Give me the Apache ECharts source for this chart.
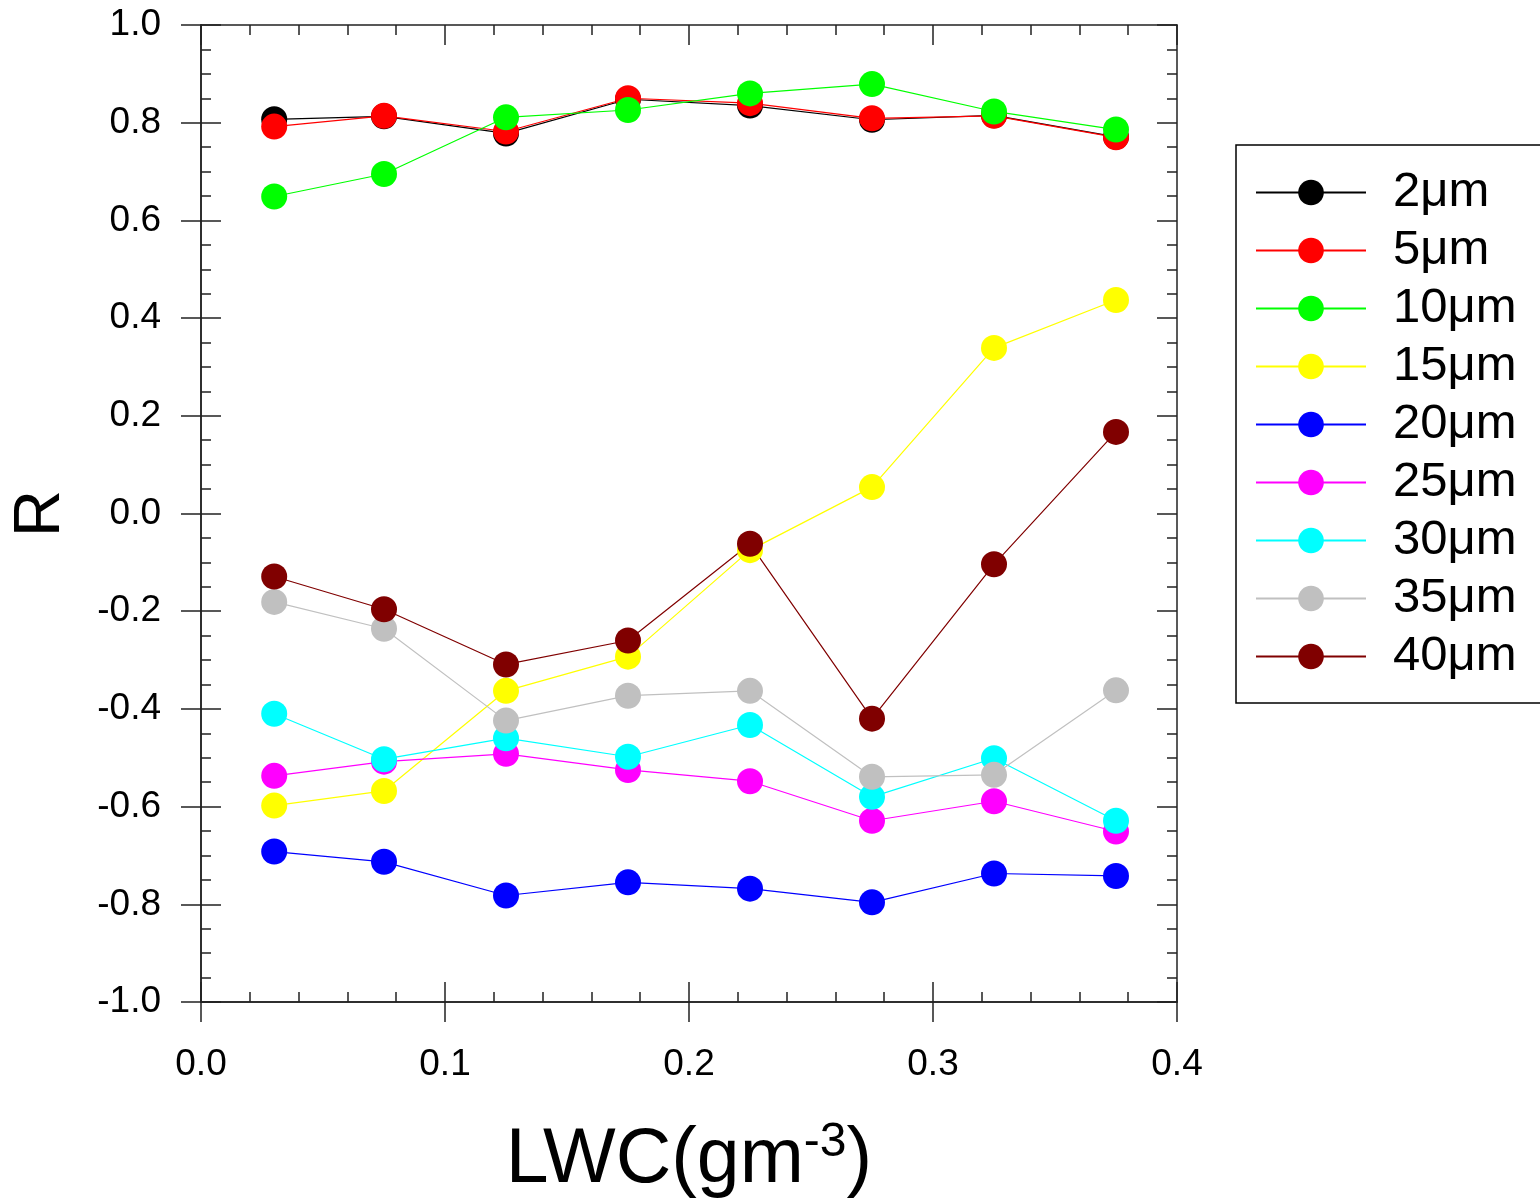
<!DOCTYPE html>
<html>
<head>
<meta charset="utf-8">
<script src="https://cdn.jsdelivr.net/npm/echarts@6/dist/echarts.min.js"></script>
<style>
  html, body { margin: 0; padding: 0; background: #fff; }
  #chart { width: 1540px; height: 1200px; }
</style>
</head>
<body>
<div id="chart"></div>
<script>
// ---- data ----
const lwc = [0.03, 0.075, 0.125, 0.175, 0.225, 0.275, 0.325, 0.375];
const seriesNames = ['2μm', '5μm', '10μm', '15μm', '20μm', '25μm', '30μm', '35μm', '40μm'];
const seriesColors = ['#000000', '#ff0000', '#00ff00', '#ffff00', '#0000ff', '#ff00ff', '#00ffff', '#c0c0c0', '#800000'];
const r2  = [0.807, 0.813, 0.778, 0.848, 0.835, 0.806, 0.815, 0.771];
const r5  = [0.792, 0.814, 0.782, 0.850, 0.840, 0.809, 0.814, 0.770];
const r10 = [0.649, 0.695, 0.811, 0.826, 0.860, 0.879, 0.823, 0.786];
const r15 = [-0.598, -0.568, -0.363, -0.293, -0.075, 0.054, 0.339, 0.437];
const r20 = [-0.692, -0.713, -0.782, -0.755, -0.768, -0.796, -0.737, -0.742];
const r25 = [-0.537, -0.508, -0.492, -0.525, -0.548, -0.629, -0.589, -0.651];
const r30 = [-0.410, -0.503, -0.460, -0.498, -0.433, -0.580, -0.501, -0.629];
const r35 = [-0.181, -0.236, -0.424, -0.373, -0.363, -0.539, -0.535, -0.362];
const r40 = [-0.129, -0.196, -0.309, -0.260, -0.062, -0.420, -0.104, 0.167];
const seriesValues = [r2, r5, r10, r15, r20, r25, r30, r35, r40];
const xTicks = { min: 0, max: 0.4, interval: 0.1 };
const yTicks = { min: -1, max: 1, interval: 0.2 };
const xTitle = 'LWC(gm';
const xTitleSup = '-3';
const yTitle = 'R';

// ---- chart ----
const FONT = 'Liberation Sans, Arial, sans-serif';
const AX = '#222';
const chart = echarts.init(document.getElementById('chart'), null, { renderer: 'canvas' });

function baseX(extra) {
  return Object.assign({
    type: 'value', min: xTicks.min, max: xTicks.max, interval: xTicks.interval,
    splitLine: { show: false },
    axisLine: { show: true, onZero: false, lineStyle: { color: AX, width: 1.5 } },
    axisLabel: { show: false },
    axisTick: { show: true, inside: true, length: 20, lineStyle: { color: AX, width: 1.5 } },
    minorTick: { show: true, splitNumber: 5, length: 10, lineStyle: { color: AX, width: 1.5 } }
  }, extra);
}
function baseY(extra) {
  return Object.assign({
    type: 'value', min: yTicks.min, max: yTicks.max, interval: yTicks.interval,
    splitLine: { show: false },
    axisLine: { show: true, onZero: false, lineStyle: { color: AX, width: 1.5 } },
    axisLabel: { show: false },
    axisTick: { show: true, inside: true, length: 20, lineStyle: { color: AX, width: 1.5 } },
    minorTick: { show: true, splitNumber: 4, length: 10, lineStyle: { color: AX, width: 1.5 } }
  }, extra);
}

const option = {
  animation: false,
  backgroundColor: '#ffffff',
  grid: { left: 201, top: 25, right: 363, bottom: 198, containLabel: false, outerBoundsMode: 'none' },
  xAxis: [
    baseX({
      position: 'bottom',
      axisTick: { show: true, inside: false, length: 20, lineStyle: { color: AX, width: 1.5 } },
      minorTick: { show: false },
      axisLabel: { show: true, fontSize: 37, fontFamily: FONT, color: '#000', margin: 44,
        formatter: v => v.toFixed(1) },
      name: '{a|' + xTitle + '}{b|' + xTitleSup + '}{a|)}',
      nameLocation: 'middle', nameGap: 117,
      nameTextStyle: {
        rich: {
          a: { fontSize: 77, fontFamily: FONT, color: '#000', lineHeight: 84 },
          b: { fontSize: 48, fontFamily: FONT, color: '#000', verticalAlign: 'top', lineHeight: 22 }
        }
      }
    }),
    baseX({ position: 'bottom' }),
    baseX({ position: 'top' })
  ],
  yAxis: [
    baseY({
      position: 'left',
      axisTick: { show: true, inside: false, length: 20, lineStyle: { color: AX, width: 1.5 } },
      minorTick: { show: false },
      axisLabel: { show: true, fontSize: 37, fontFamily: FONT, color: '#000', margin: 40,
        formatter: v => v.toFixed(1) },
      name: yTitle, nameLocation: 'middle', nameGap: 127,
      nameTextStyle: { fontSize: 65, fontFamily: FONT, color: '#000' }
    }),
    baseY({ position: 'left' }),
    baseY({ position: 'right' })
  ],
  legend: {
    orient: 'vertical', left: 1236, top: 145,
    itemWidth: 110, itemHeight: 32, itemGap: 9,
    padding: [23, 25, 22, 19],
    borderColor: '#000', borderWidth: 1.5,
    textStyle: { fontSize: 49, fontFamily: FONT, color: '#000', padding: [0, 0, 0, 22] },
    data: seriesNames
  },
  series: seriesNames.map((name, i) => ({
    name: name,
    type: 'line',
    xAxisIndex: 0, yAxisIndex: 0,
    symbol: 'circle', symbolSize: 26, showSymbol: true,
    color: seriesColors[i],
    itemStyle: { color: seriesColors[i] },
    lineStyle: { color: seriesColors[i], width: 1.2 },
    data: lwc.map((x, k) => [x, seriesValues[i][k]])
  }))
};
chart.setOption(option);
</script>
</body>
</html>
